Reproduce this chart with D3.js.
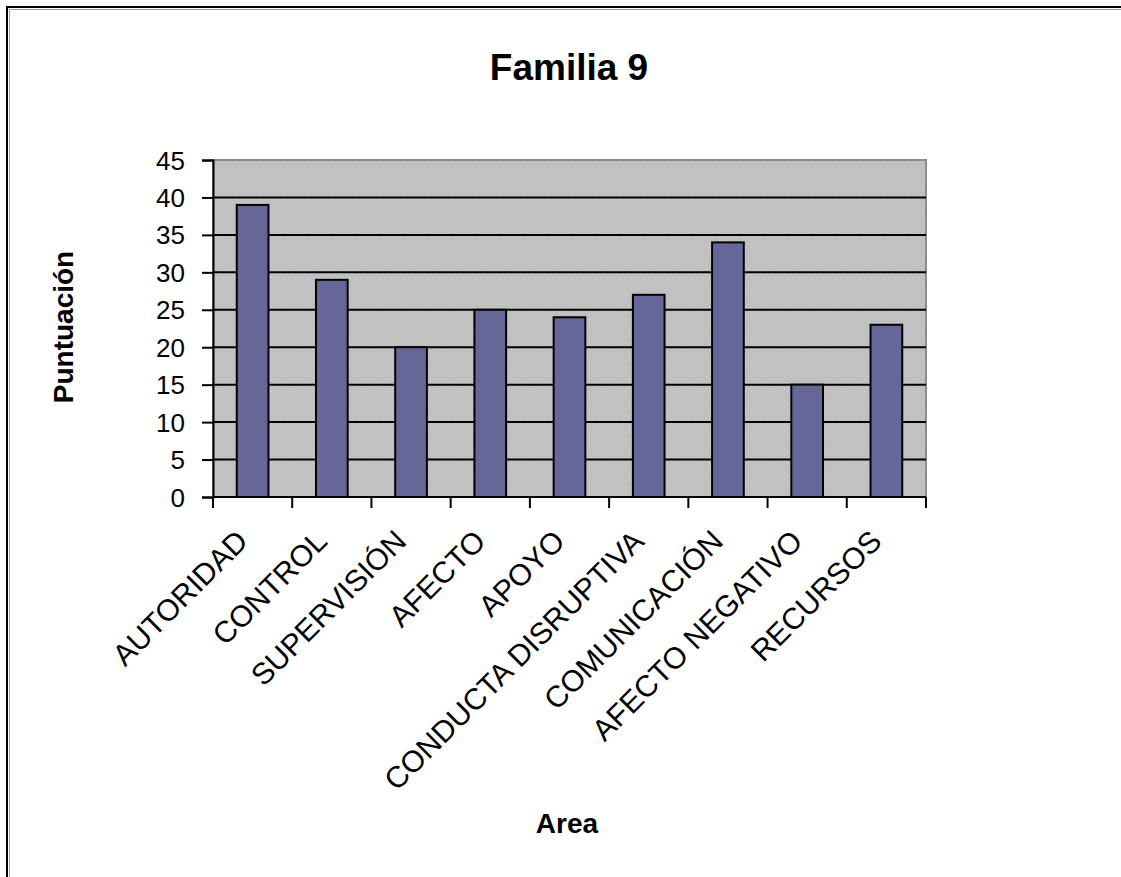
<!DOCTYPE html>
<html>
<head>
<meta charset="utf-8">
<script src="https://cdn.jsdelivr.net/npm/d3@7"></script>
<style>
  html, body { margin: 0; padding: 0; background: #fff; }
  svg { display: block; }
  text { font-family: Arial, "Liberation Sans", sans-serif; fill: #000; }
</style>
</head>
<body>
<svg id="chart" width="1121" height="877"></svg>
<script>
// Chart content
const chartTitle = "Familia 9";
const xTitle = "Area";
const yTitle = "Puntuación";
const categories = ["AUTORIDAD", "CONTROL", "SUPERVISIÓN", "AFECTO", "APOYO",
                    "CONDUCTA DISRUPTIVA", "COMUNICACIÓN", "AFECTO NEGATIVO", "RECURSOS"];
const scores = [39, 29, 20, 25, 24, 27, 34, 15, 23];
const yTicks = [0, 5, 10, 15, 20, 25, 30, 35, 40, 45];

const svg = d3.select("#chart");
const plot = { left: 213, right: 926, top: 160, bottom: 497 };

// Outer frame (top and left edges visible)
svg.append("path")
  .attr("d", "M7,877 V7 H1121")
  .attr("fill", "none").attr("stroke", "#000").attr("stroke-width", 2);
svg.append("path")
  .attr("d", "M9.5,877 V9.5 H1121")
  .attr("fill", "none").attr("stroke", "#a0a0a0").attr("stroke-width", 1);

// Scales
const x = d3.scaleBand().domain(categories).range([plot.left, plot.right]).padding(0);
const xBar = d3.scaleBand().domain(categories).range([plot.left, plot.right])
  .paddingInner(0.6).paddingOuter(0.3);
const y = d3.scaleLinear().domain([0, 45]).range([plot.bottom, plot.top]);

// Dotted grey plot background
const defs = svg.append("defs");
const pat = defs.append("pattern").attr("id", "dots")
  .attr("patternUnits", "userSpaceOnUse").attr("width", 6).attr("height", 6);
pat.append("rect").attr("width", 6).attr("height", 6).attr("fill", "#c0c0c0");
pat.append("rect").attr("x", 1).attr("y", 1).attr("width", 1).attr("height", 1).attr("fill", "#d2d2d2");
pat.append("rect").attr("x", 4).attr("y", 4).attr("width", 1).attr("height", 1).attr("fill", "#d2d2d2");

svg.append("rect")
  .attr("x", plot.left).attr("y", plot.top)
  .attr("width", plot.right - plot.left).attr("height", plot.bottom - plot.top)
  .attr("fill", "url(#dots)")
  .attr("stroke", "#8c8c8c").attr("stroke-width", 2);

// Horizontal gridlines
svg.append("g").selectAll("line")
  .data(yTicks.filter(d => d > 0 && d < 45))
  .join("line")
  .attr("x1", plot.left).attr("x2", plot.right)
  .attr("y1", d => y(d)).attr("y2", d => y(d))
  .attr("stroke", "#000").attr("stroke-width", 2);

// Bars
svg.append("g").selectAll("rect")
  .data(categories)
  .join("rect")
  .attr("x", d => xBar(d))
  .attr("width", xBar.bandwidth())
  .attr("y", (d, i) => y(scores[i]))
  .attr("height", (d, i) => y(0) - y(scores[i]))
  .attr("fill", "#666699")
  .attr("stroke", "#000").attr("stroke-width", 2);

// Y axis
const yAxis = svg.append("g")
  .attr("transform", `translate(${plot.left},0)`)
  .call(d3.axisLeft(y).tickValues(yTicks).tickSize(11).tickPadding(17).tickFormat(d3.format("d")));
yAxis.select(".domain").attr("stroke", "#000").attr("stroke-width", 2);
yAxis.selectAll(".tick line").attr("stroke", "#000").attr("stroke-width", 2);
yAxis.selectAll(".tick text")
  .attr("font-size", 26).attr("font-family", "Arial, 'Liberation Sans', sans-serif")
  .attr("dy", "0.35em");

// X axis: ticks at category boundaries
const bounds = categories.map(c => x(c)).concat([plot.right]);
svg.append("line")
  .attr("x1", plot.left).attr("x2", plot.right)
  .attr("y1", plot.bottom).attr("y2", plot.bottom)
  .attr("stroke", "#000").attr("stroke-width", 2);
svg.append("g").selectAll("line")
  .data(bounds)
  .join("line")
  .attr("x1", d => d).attr("x2", d => d)
  .attr("y1", plot.bottom).attr("y2", plot.bottom + 11)
  .attr("stroke", "#000").attr("stroke-width", 2);

// Category labels rotated 45 degrees
svg.append("g").selectAll("text")
  .data(categories)
  .join("text")
  .attr("transform", d => `translate(${x(d) + x.bandwidth() / 2 - 3},543) rotate(-45)`)
  .attr("text-anchor", "end")
  .attr("font-size", 30)
  .text(d => d);

// Titles
svg.append("text")
  .attr("x", 569).attr("y", 80)
  .attr("text-anchor", "middle")
  .attr("font-size", 37).attr("font-weight", "bold")
  .text(chartTitle);

svg.append("text")
  .attr("x", 567).attr("y", 833)
  .attr("text-anchor", "middle")
  .attr("font-size", 28).attr("font-weight", "bold")
  .text(xTitle);

svg.append("text")
  .attr("transform", "translate(73,327) rotate(-90)")
  .attr("text-anchor", "middle")
  .attr("font-size", 28).attr("font-weight", "bold")
  .text(yTitle);
</script>
</body>
</html>
